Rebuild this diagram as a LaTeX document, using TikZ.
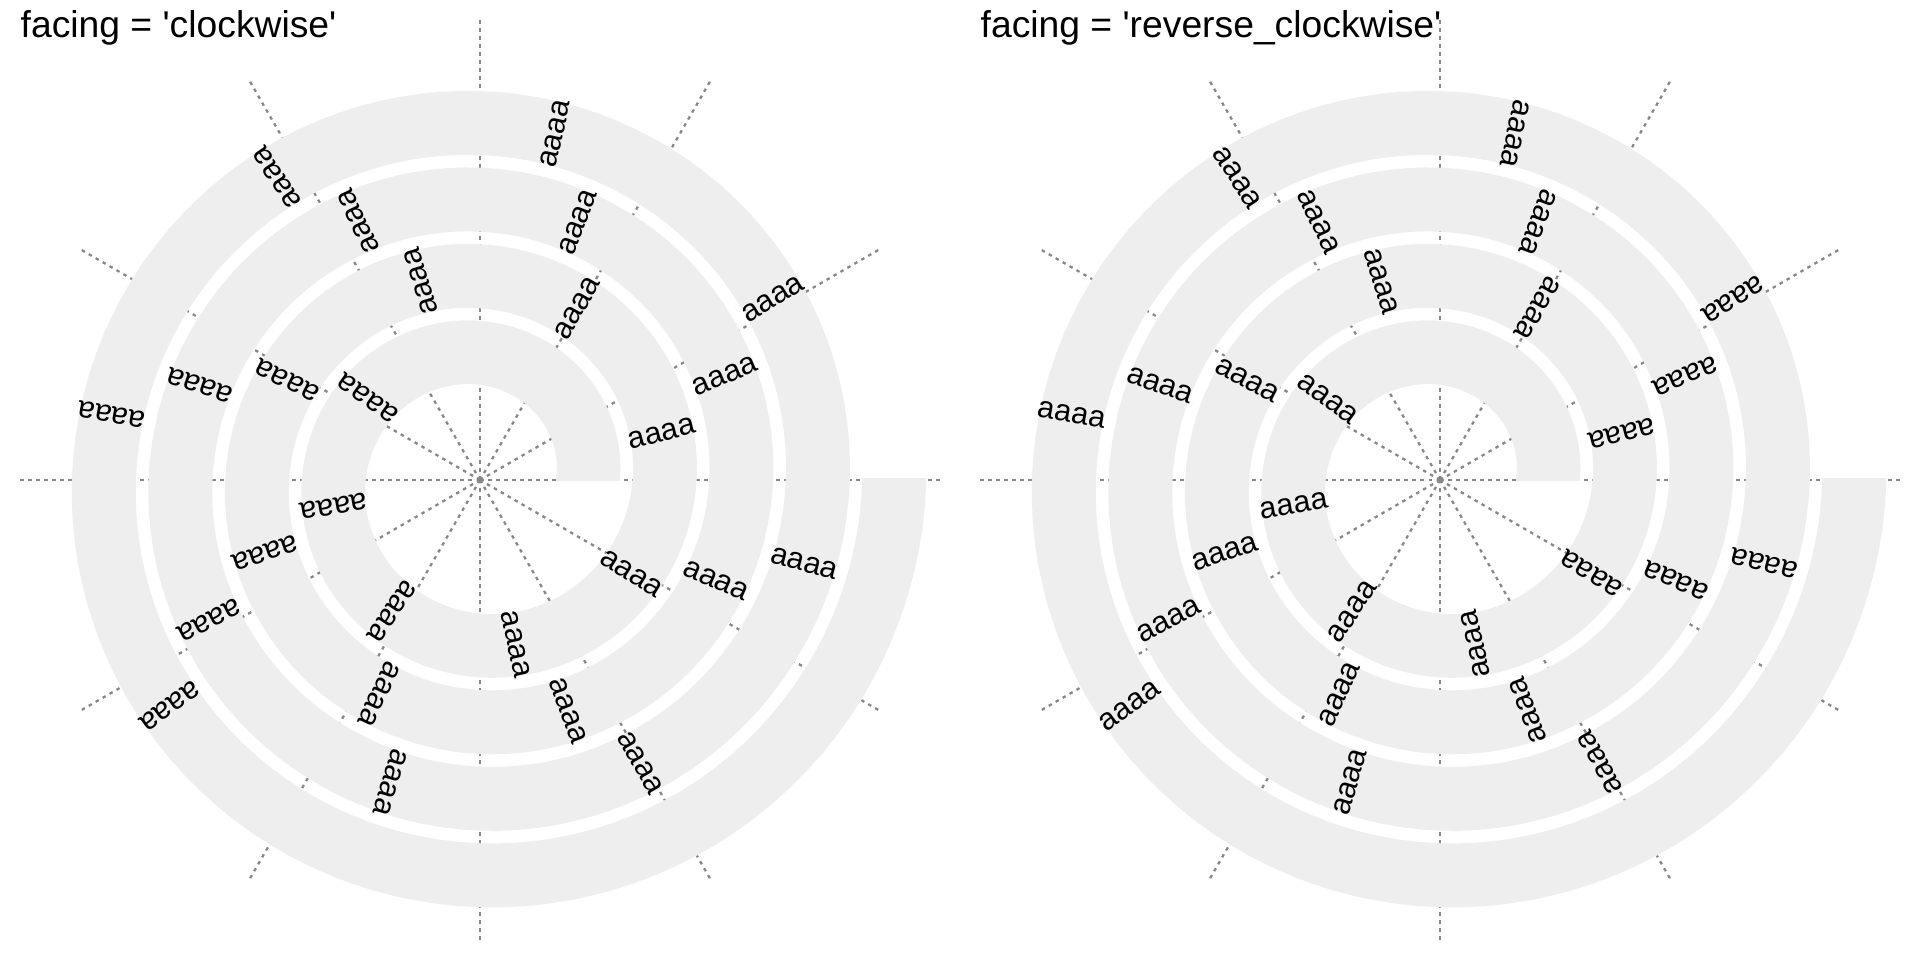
\documentclass[tikz,border=0pt]{standalone}
\usepackage{fontspec}
\setmainfont{Liberation Sans}
\usetikzlibrary{positioning}
\definecolor{bandgray}{HTML}{EEEEEE}
\definecolor{gridgray}{HTML}{888888}

\begin{document}
\begin{tikzpicture}[x=0.01cm, y=0.01cm,
  band/.style={fill=bandgray},
  gridline/.style={draw=gridgray, line width=0.65pt, dash pattern=on 0.035cm off 0.045cm},
  lbl/.style={font=\fontsize{8.7}{10}\selectfont, inner sep=0pt},
  title/.style={font=\fontsize{10.6}{12}\selectfont, inner sep=0pt, anchor=base west}]
\useasboundingbox (0,0) rectangle (1920,960);

\foreach \cx/\flip/\ttl in {480/0/clockwise, 1440/180/reverse\_clockwise} {
  \begin{scope}[shift={(\cx,480)}]
    \foreach \a in {0,30,...,330}
      \draw[gridline] (0,0) -- (\a:460);
    \fill[band] plot[domain=0:1440, samples=481] (\x:{140+\x/360*76.6})
      -- plot[domain=1440:0, samples=481] (\x:{76+\x/360*76.6}) -- cycle;
    \fill[band] (76,-1.5) rectangle (140,0);
    \fill[band] (382.4,0) rectangle (446.4,1.5);
    \foreach \k in {0,...,25}
      \node[lbl, rotate={144+46.08*\k+\flip}] (lbl-\cx-\k)
        at ({144+46.08*\k}:{108+(144+46.08*\k)/360*76.6}) {aaaa};
    \node[title] (title-\cx) at (-460,442.3)
      {facing = \textquotesingle\ttl\textquotesingle};
  \end{scope}
}
\end{tikzpicture}
\end{document}
